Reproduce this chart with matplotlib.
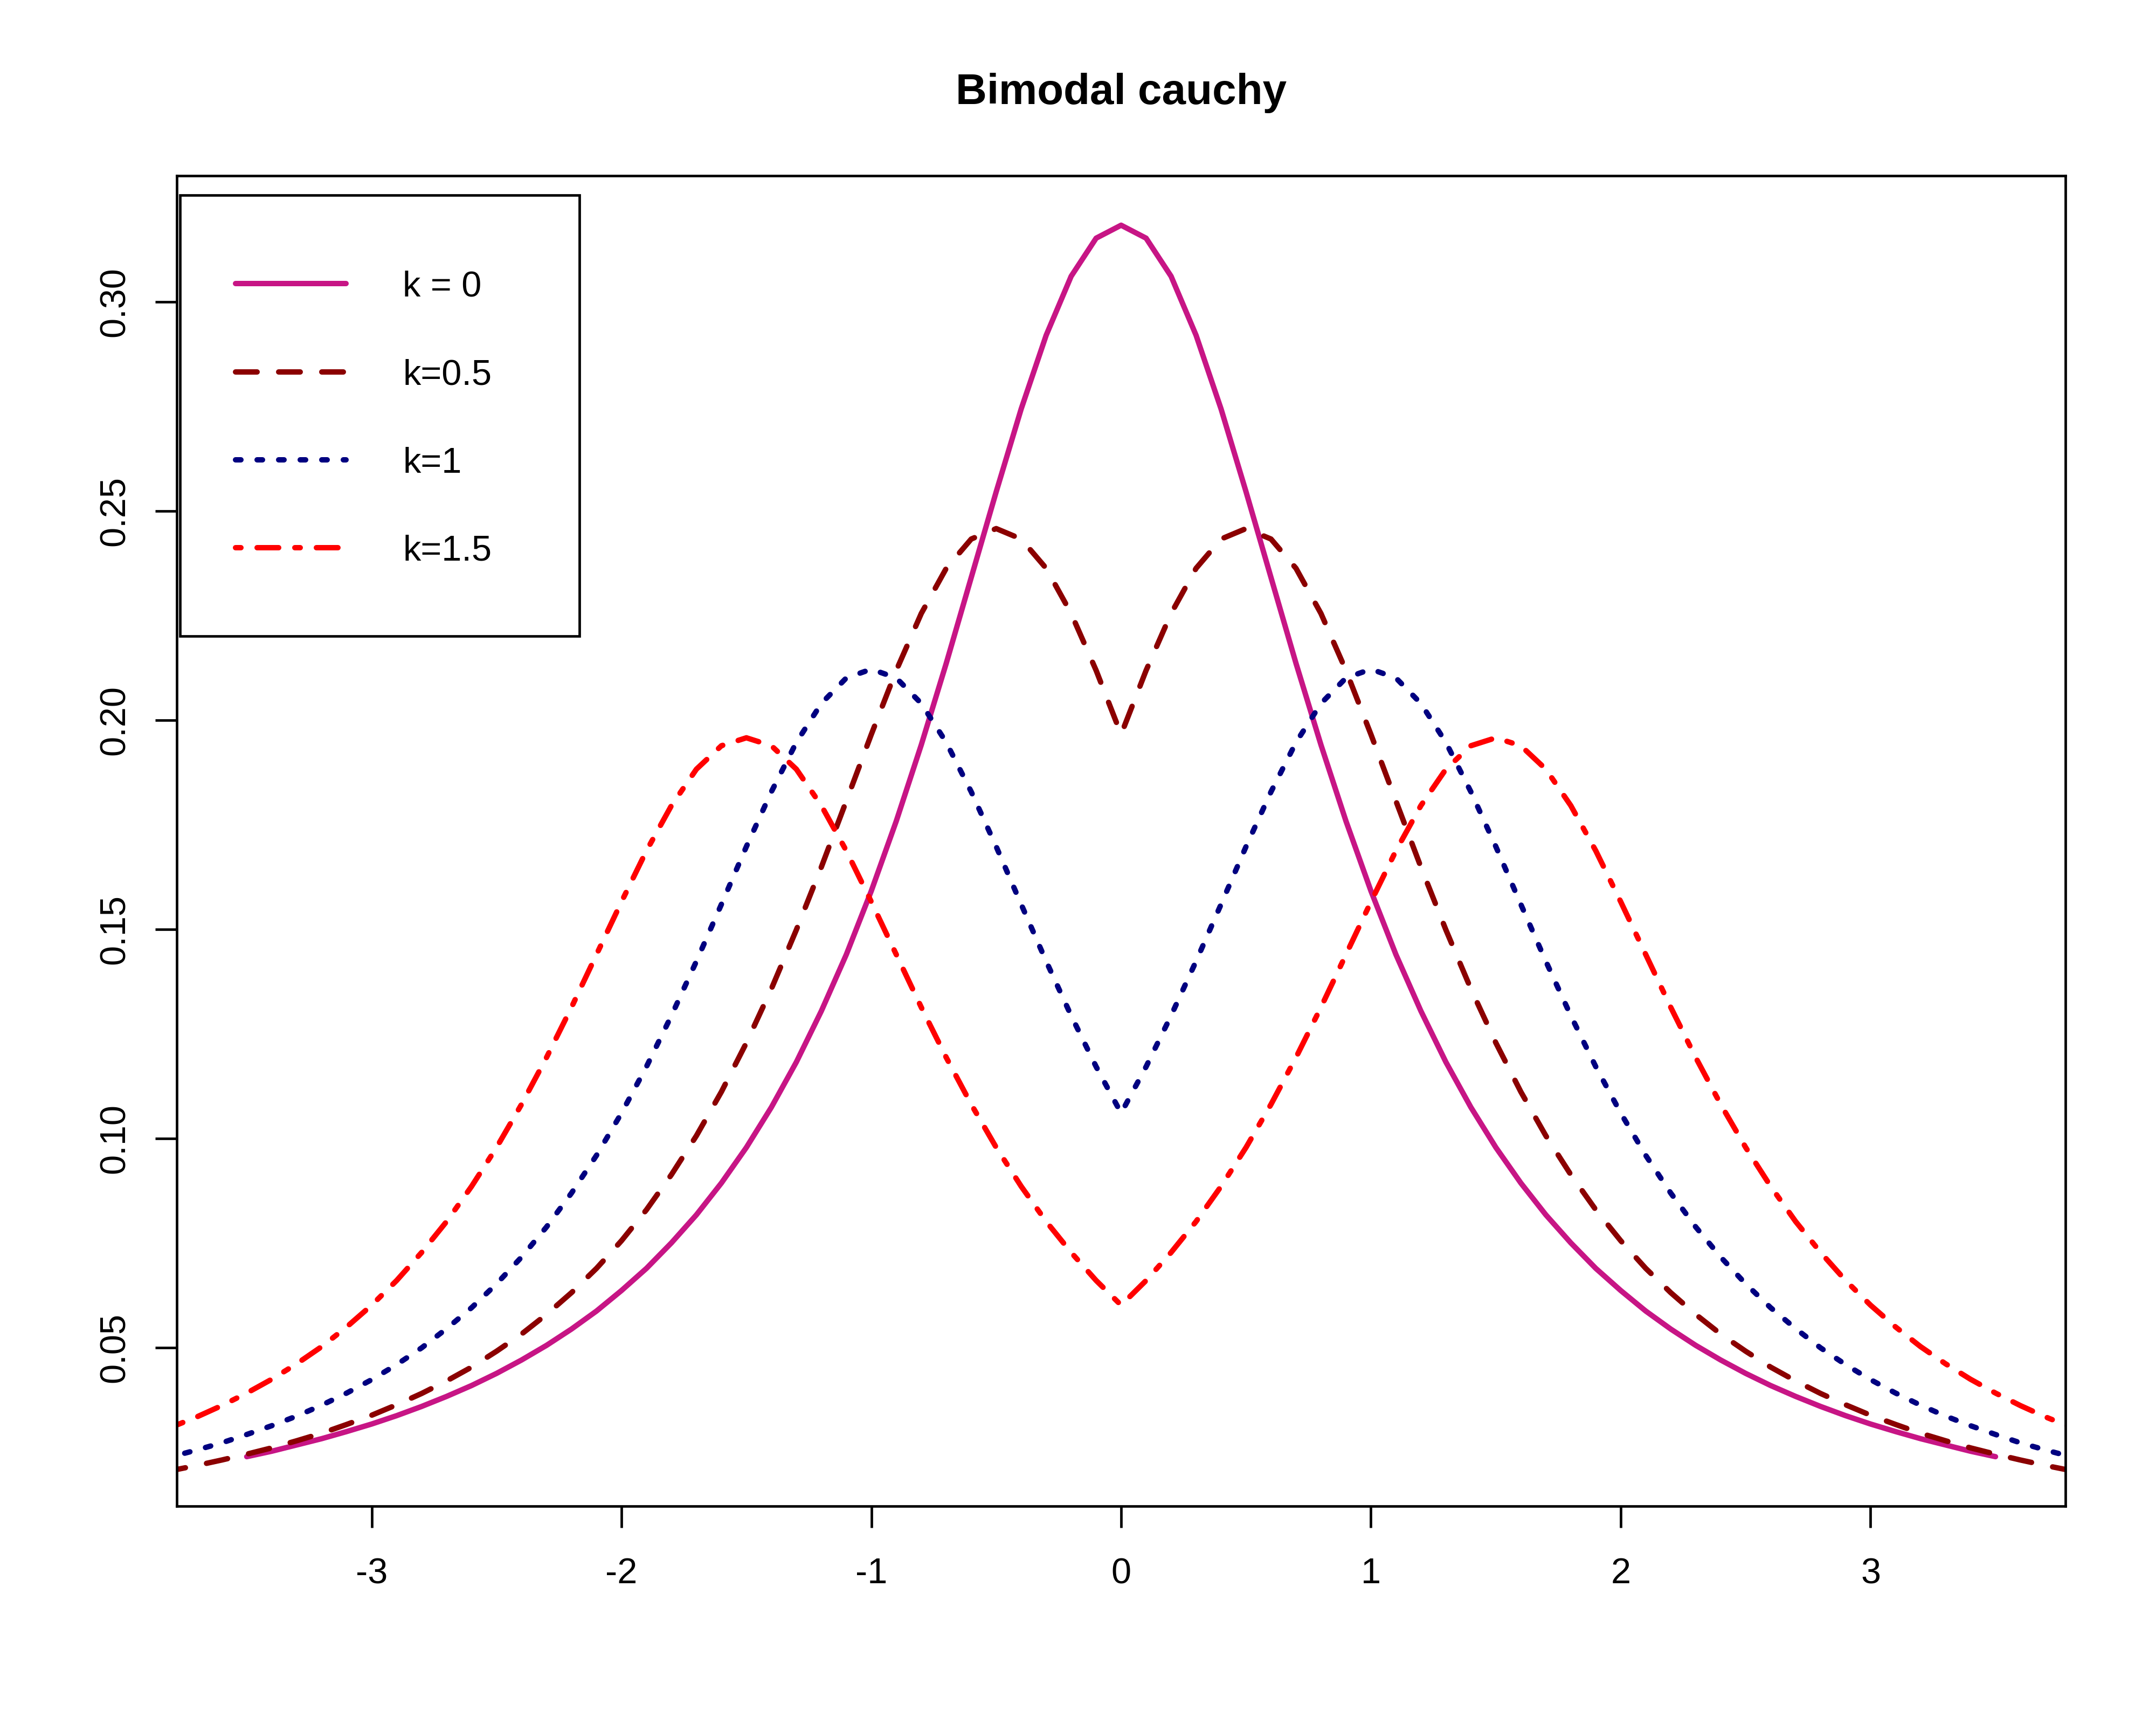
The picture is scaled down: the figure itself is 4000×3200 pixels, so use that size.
import numpy as np
import matplotlib
matplotlib.use('Agg')
import matplotlib.pyplot as plt
from matplotlib.patches import Rectangle

plt.rcParams['font.family'] = ['Liberation Sans', 'DejaVu Sans']
plt.rcParams['axes.unicode_minus'] = False
plt.rcParams['lines.scale_dashes'] = False

# sample grid of the k=0 curve (-3.5 .. 3.5) and of the other curves (-4 .. 4)
x_k0 = [-3.5, -3.4, -3.3, -3.2, -3.1, -3.0, -2.9, -2.8, -2.7, -2.6,
        -2.5, -2.4, -2.3, -2.2, -2.1, -2.0, -1.9, -1.8, -1.7, -1.6,
        -1.5, -1.4, -1.3, -1.2, -1.1, -1.0, -0.9, -0.8, -0.7, -0.6,
        -0.5, -0.4, -0.3, -0.2, -0.1, 0.0, 0.1, 0.2, 0.3, 0.4,
        0.5, 0.6, 0.7, 0.8, 0.9, 1.0, 1.1, 1.2, 1.3, 1.4,
        1.5, 1.6, 1.7, 1.8, 1.9, 2.0, 2.1, 2.2, 2.3, 2.4,
        2.5, 2.6, 2.7, 2.8, 2.9, 3.0, 3.1, 3.2, 3.3, 3.4, 3.5]

x_wide = [-4.0, -3.9, -3.8, -3.7, -3.6, -3.5, -3.4, -3.3, -3.2, -3.1,
          -3.0, -2.9, -2.8, -2.7, -2.6, -2.5, -2.4, -2.3, -2.2, -2.1,
          -2.0, -1.9, -1.8, -1.7, -1.6, -1.5, -1.4, -1.3, -1.2, -1.1,
          -1.0, -0.9, -0.8, -0.7, -0.6, -0.5, -0.4, -0.3, -0.2, -0.1,
          0.0,
          0.1, 0.2, 0.3, 0.4, 0.5, 0.6, 0.7, 0.8, 0.9, 1.0,
          1.1, 1.2, 1.3, 1.4, 1.5, 1.6, 1.7, 1.8, 1.9, 2.0,
          2.1, 2.2, 2.3, 2.4, 2.5, 2.6, 2.7, 2.8, 2.9, 3.0,
          3.1, 3.2, 3.3, 3.4, 3.5, 3.6, 3.7, 3.8, 3.9, 4.0]

dens_k0 = [0.0240, 0.0253, 0.0268, 0.0283, 0.0300, 0.0318, 0.0338, 0.0360, 0.0384, 0.0410,
           0.0439, 0.0471, 0.0506, 0.0545, 0.0588, 0.0637, 0.0690, 0.0751, 0.0818, 0.0894,
           0.0979, 0.1075, 0.1183, 0.1305, 0.1440, 0.1592, 0.1759, 0.1941, 0.2136, 0.2341,
           0.2546, 0.2744, 0.2920, 0.3061, 0.3152, 0.3183, 0.3152, 0.3061, 0.2920, 0.2744,
           0.2546, 0.2341, 0.2136, 0.1941, 0.1759, 0.1592, 0.1440, 0.1305, 0.1183, 0.1075,
           0.0979, 0.0894, 0.0818, 0.0751, 0.0690, 0.0637, 0.0588, 0.0545, 0.0506, 0.0471,
           0.0439, 0.0410, 0.0384, 0.0360, 0.0338, 0.0318, 0.0300, 0.0283, 0.0268, 0.0253, 0.0240]

dens_k05 = [0.0185, 0.0196, 0.0207, 0.0219, 0.0232, 0.0246, 0.0261, 0.0278, 0.0296, 0.0317,
            0.0339, 0.0364, 0.0391, 0.0421, 0.0454, 0.0492, 0.0533, 0.0580, 0.0632, 0.0690,
            0.0756, 0.0830, 0.0914, 0.1007, 0.1112, 0.1229, 0.1358, 0.1499, 0.1649, 0.1807,
            0.1966, 0.2119, 0.2255, 0.2363, 0.2433, 0.2458, 0.2433, 0.2363, 0.2255, 0.2119,
            0.1966,
            0.2119, 0.2255, 0.2363, 0.2433, 0.2458, 0.2433, 0.2363, 0.2255, 0.2119, 0.1966,
            0.1807, 0.1649, 0.1499, 0.1358, 0.1229, 0.1112, 0.1007, 0.0914, 0.0830, 0.0756,
            0.0690, 0.0632, 0.0580, 0.0533, 0.0492, 0.0454, 0.0421, 0.0391, 0.0364, 0.0339,
            0.0317, 0.0296, 0.0278, 0.0261, 0.0246, 0.0232, 0.0219, 0.0207, 0.0196, 0.0185]

dens_k1 = [0.0212, 0.0226, 0.0240, 0.0256, 0.0273, 0.0293, 0.0314, 0.0337, 0.0363, 0.0392,
           0.0424, 0.0460, 0.0500, 0.0546, 0.0596, 0.0653, 0.0717, 0.0789, 0.0870, 0.0960,
           0.1061, 0.1172, 0.1294, 0.1424, 0.1560, 0.1698, 0.1829, 0.1947, 0.2040, 0.2101,
           0.2122, 0.2101, 0.2040, 0.1947, 0.1829, 0.1698, 0.1560, 0.1424, 0.1294, 0.1172,
           0.1061,
           0.1172, 0.1294, 0.1424, 0.1560, 0.1698, 0.1829, 0.1947, 0.2040, 0.2101, 0.2122,
           0.2101, 0.2040, 0.1947, 0.1829, 0.1698, 0.1560, 0.1424, 0.1294, 0.1172, 0.1061,
           0.0960, 0.0870, 0.0789, 0.0717, 0.0653, 0.0596, 0.0546, 0.0500, 0.0460, 0.0424,
           0.0392, 0.0363, 0.0337, 0.0314, 0.0293, 0.0273, 0.0256, 0.0240, 0.0226, 0.0212]

dens_k15 = [0.0270, 0.0290, 0.0311, 0.0335, 0.0362, 0.0392, 0.0425, 0.0462, 0.0503, 0.0550,
            0.0602, 0.0661, 0.0728, 0.0802, 0.0886, 0.0979, 0.1082, 0.1194, 0.1314, 0.1440,
            0.1566, 0.1688, 0.1796, 0.1883, 0.1939, 0.1958, 0.1939, 0.1883, 0.1796, 0.1688,
            0.1566, 0.1440, 0.1314, 0.1194, 0.1082, 0.0979, 0.0886, 0.0802, 0.0728, 0.0661,
            0.0602,
            0.0661, 0.0728, 0.0802, 0.0886, 0.0979, 0.1082, 0.1194, 0.1314, 0.1440, 0.1566,
            0.1688, 0.1796, 0.1883, 0.1939, 0.1958, 0.1939, 0.1883, 0.1796, 0.1688, 0.1566,
            0.1440, 0.1314, 0.1194, 0.1082, 0.0979, 0.0886, 0.0802, 0.0728, 0.0661, 0.0602,
            0.0550, 0.0503, 0.0462, 0.0425, 0.0392, 0.0362, 0.0335, 0.0311, 0.0290, 0.0270]

labels = ['k = 0', 'k=0.5', 'k=1', 'k=1.5']
colors = ['mediumvioletred', 'darkred', 'navy', 'red']
x_ticks = [-3, -2, -1, 0, 1, 2, 3]
y_ticks = [0.05, 0.10, 0.15, 0.20, 0.25, 0.30]
y_tick_labels = ['0.05', '0.10', '0.15', '0.20', '0.25', '0.30']

# R style line types (dash lengths in points)
styles = ['-', (0, (7.2, 7.2)), (0, (1.8, 5.4)), (0, (1.8, 5.4, 7.2, 5.4))]
lw = 1.8

fig = plt.figure(figsize=(10, 8), dpi=400)
ax = fig.add_axes([0.082, 0.127, 0.876, 0.771])

series = [(x_k0, dens_k0), (x_wide, dens_k05), (x_wide, dens_k1), (x_wide, dens_k15)]
for (xs, ys), col, ls in zip(series, colors, styles):
    ax.plot(xs, ys, color=col, linestyle=ls, linewidth=lw,
            dash_capstyle='round', solid_capstyle='round', solid_joinstyle='round')

# axis range like R: range of the first curve plus 4 %
xr = max(x_k0) - min(x_k0)
yr = max(dens_k0) - min(dens_k0)
ax.set_xlim(min(x_k0) - 0.04 * xr, max(x_k0) + 0.04 * xr)
ax.set_ylim(min(dens_k0) - 0.04 * yr, max(dens_k0) + 0.04 * yr)

ax.set_xticks(x_ticks)
ax.set_xticklabels([str(t) for t in x_ticks])
ax.set_yticks(y_ticks)
ax.set_yticklabels(y_tick_labels, rotation=90, va='center')
ax.tick_params(axis='both', direction='out', length=7.2, width=0.85, labelsize=12, color='black')
ax.tick_params(axis='x', pad=10.0)
ax.tick_params(axis='y', pad=7.7)
for s in ax.spines.values():
    s.set_linewidth(0.85)

ax.set_title('Bimodal cauchy', fontweight='bold', fontsize=14.4, pad=24)

# legend box drawn by hand to get R's wide box
ax.add_patch(Rectangle((0.0017, 0.6541), 0.2115, 0.3313, transform=ax.transAxes,
                       fill=False, edgecolor='black', linewidth=0.85, zorder=5))
rows = [0.9193, 0.8528, 0.7867, 0.7206]
for r, lab, col, ls in zip(rows, labels, colors, styles):
    ax.plot([0.0311, 0.0896], [r, r], transform=ax.transAxes, color=col, linestyle=ls,
            linewidth=lw, dash_capstyle='round', solid_capstyle='round', zorder=6)
    ax.text(0.1196, r - 0.0097, lab, transform=ax.transAxes, fontsize=12,
            ha='left', va='baseline', zorder=6)

fig.savefig('out.png', dpi=400)
